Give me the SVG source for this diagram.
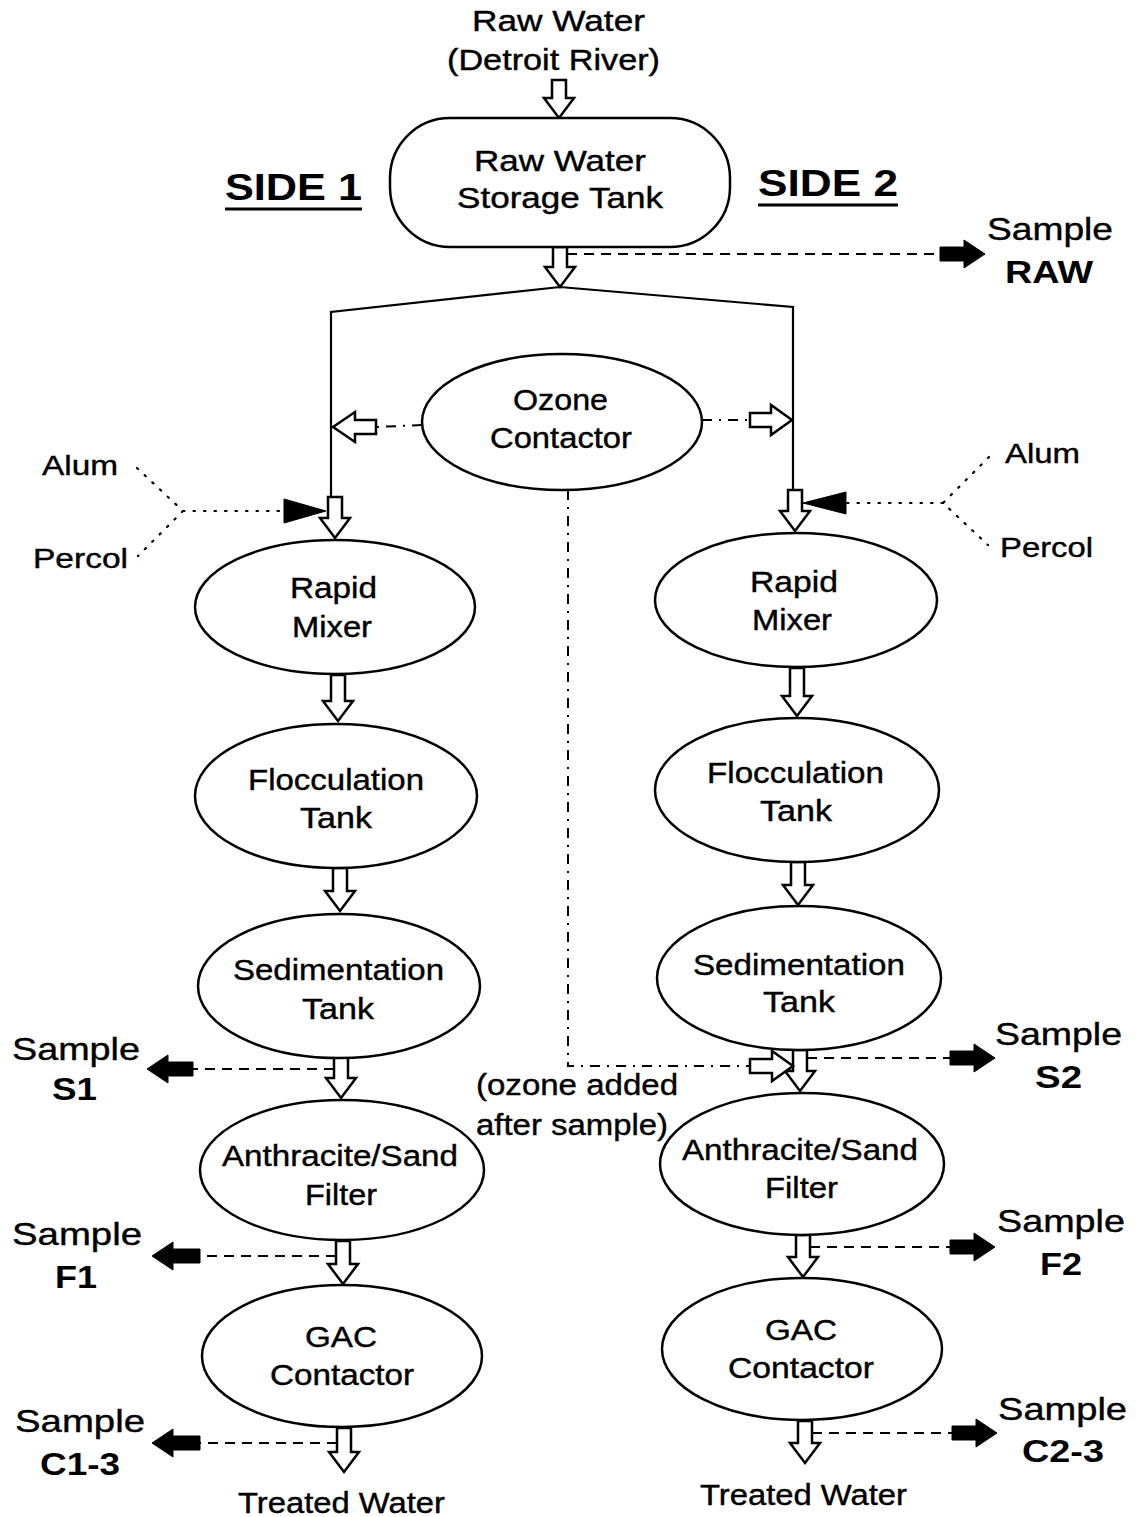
<svg xmlns="http://www.w3.org/2000/svg" width="1137" height="1517" viewBox="0 0 1137 1517">
<style>
text{font-family:"Liberation Sans",Arial,sans-serif;fill:#000}
.t{font-size:29px;stroke:#000;stroke-width:0.4}
.s{font-size:32px;stroke:#000;stroke-width:0.4}
.b{font-size:32px;font-weight:bold}
.side{font-size:36px;font-weight:bold}
.ch{font-size:28px;stroke:#000;stroke-width:0.4}
.node{fill:#fff;stroke:#000;stroke-width:2.5}
.ha{fill:#fff;stroke:#000;stroke-width:2.5;stroke-linejoin:miter}
.ba{fill:#000;stroke:#000;stroke-width:1}
.line{fill:none;stroke:#000;stroke-width:2.2}
.dash{fill:none;stroke:#000;stroke-width:2;stroke-dasharray:10 7}
.dd{fill:none;stroke:#000;stroke-width:2;stroke-dasharray:10 7 2 7}
.dot{fill:none;stroke:#000;stroke-width:2.2;stroke-dasharray:1.5 9;stroke-linecap:round}
</style>
<rect width="1137" height="1517" fill="#fff"/>

<g id="labels">
<text class="t" x="472" y="31" textLength="173" lengthAdjust="spacingAndGlyphs">Raw Water</text>
<text class="t" x="447" y="70" textLength="213" lengthAdjust="spacingAndGlyphs">(Detroit River)</text>
<text class="side" x="225" y="200" textLength="137" lengthAdjust="spacingAndGlyphs">SIDE 1</text>
<line x1="225" y1="209" x2="362" y2="209" stroke="#000" stroke-width="3"/>
<text class="side" x="758" y="196" textLength="140" lengthAdjust="spacingAndGlyphs">SIDE 2</text>
<line x1="758" y1="205" x2="898" y2="205" stroke="#000" stroke-width="3"/>
<text class="ch" x="42" y="475" textLength="76" lengthAdjust="spacingAndGlyphs">Alum</text>
<text class="ch" x="33" y="568" textLength="95" lengthAdjust="spacingAndGlyphs">Percol</text>
<text class="ch" x="1005" y="463" textLength="75" lengthAdjust="spacingAndGlyphs">Alum</text>
<text class="ch" x="1000" y="557" textLength="93" lengthAdjust="spacingAndGlyphs">Percol</text>
<text class="t" x="476" y="1095" textLength="202" lengthAdjust="spacingAndGlyphs">(ozone added</text>
<text class="t" x="476" y="1135" textLength="192" lengthAdjust="spacingAndGlyphs">after sample)</text>
<text class="t" x="238" y="1513" textLength="207" lengthAdjust="spacingAndGlyphs">Treated Water</text>
<text class="t" x="700" y="1505" textLength="207" lengthAdjust="spacingAndGlyphs">Treated Water</text>
</g>

<g id="sample-raw">
<text class="s" x="987" y="240" textLength="126" lengthAdjust="spacingAndGlyphs">Sample</text>
<text class="b" x="1005" y="283" textLength="88" lengthAdjust="spacingAndGlyphs">RAW</text>
</g>
<g id="sample-s1">
<text class="s" x="12" y="1060" textLength="128" lengthAdjust="spacingAndGlyphs">Sample</text>
<text class="b" x="52" y="1100" textLength="45" lengthAdjust="spacingAndGlyphs">S1</text>
</g>
<g id="sample-f1">
<text class="s" x="12" y="1245" textLength="130" lengthAdjust="spacingAndGlyphs">Sample</text>
<text class="b" x="55" y="1288" textLength="42" lengthAdjust="spacingAndGlyphs">F1</text>
</g>
<g id="sample-c1">
<text class="s" x="15" y="1432" textLength="130" lengthAdjust="spacingAndGlyphs">Sample</text>
<text class="b" x="40" y="1475" textLength="80" lengthAdjust="spacingAndGlyphs">C1-3</text>
</g>
<g id="sample-s2">
<text class="s" x="995" y="1045" textLength="127" lengthAdjust="spacingAndGlyphs">Sample</text>
<text class="b" x="1035" y="1088" textLength="47" lengthAdjust="spacingAndGlyphs">S2</text>
</g>
<g id="sample-f2">
<text class="s" x="997" y="1232" textLength="128" lengthAdjust="spacingAndGlyphs">Sample</text>
<text class="b" x="1040" y="1275" textLength="42" lengthAdjust="spacingAndGlyphs">F2</text>
</g>
<g id="sample-c2">
<text class="s" x="998" y="1420" textLength="129" lengthAdjust="spacingAndGlyphs">Sample</text>
<text class="b" x="1022" y="1462" textLength="82" lengthAdjust="spacingAndGlyphs">C2-3</text>
</g>

<g id="connectors">
<polyline class="line" points="331,497 331,312 560,287 793,307 793,490"/>
<line class="dash" x1="567" y1="254" x2="940" y2="254"/>
<line class="dash" x1="334" y1="1069" x2="193" y2="1069"/>
<line class="dash" x1="336" y1="1256" x2="200" y2="1256"/>
<line class="dash" x1="337" y1="1443" x2="200" y2="1443"/>
<line class="dash" x1="807" y1="1058" x2="950" y2="1058"/>
<line class="dash" x1="810" y1="1247" x2="950" y2="1247"/>
<line class="dash" x1="812" y1="1433" x2="952" y2="1433"/>
<line class="dd" x1="422" y1="425" x2="376" y2="427"/>
<line class="dd" x1="702" y1="420" x2="750" y2="420"/>
<polyline class="dd" points="568,490 568,1066 750,1066"/>
<polyline class="dot" points="137,468 183,511 138,556"/>
<line class="dot" x1="183" y1="511" x2="284" y2="511"/>
<polyline class="dot" points="989,457 943,503 988,545"/>
<line class="dot" x1="943" y1="503" x2="846" y2="503"/>
<path class="ba" d="M326,511 L284,499 L284,523 Z"/>
<path class="ba" d="M803,503 L846,492 L846,514 Z"/>
<path class="ha" d="M552,80 H566 V98 H574 L559,118 L544,98 H552 Z"/>
<path class="ha" d="M553,247 H567 V267 H575 L560,287 L545,267 H553 Z"/>
<path class="ha" d="M328,497 H342 V518 H350 L335,538 L320,518 H328 Z"/>
<path class="ha" d="M788,490 H802 V511 H810 L795,531 L780,511 H788 Z"/>
<path class="ha" d="M331,675 H345 V701 H353 L338,721 L323,701 H331 Z"/>
<path class="ha" d="M790,668 H804 V696 H812 L797,716 L782,696 H790 Z"/>
<path class="ha" d="M333,868 H347 V891 H355 L340,911 L325,891 H333 Z"/>
<path class="ha" d="M791,862 H805 V885 H813 L798,905 L783,885 H791 Z"/>
<path class="ha" d="M334,1057 H348 V1078 H356 L341,1098 L326,1078 H334 Z"/>
<path class="ha" d="M793,1050 H807 V1071 H815 L800,1091 L785,1071 H793 Z"/>
<path class="ha" d="M336,1241 H350 V1264 H358 L343,1284 L328,1264 H336 Z"/>
<path class="ha" d="M796,1235 H810 V1257 H818 L803,1277 L788,1257 H796 Z"/>
<path class="ha" d="M337,1428 H351 V1452 H359 L344,1472 L329,1452 H337 Z"/>
<path class="ha" d="M798,1421 H812 V1443 H820 L805,1463 L790,1443 H798 Z"/>
<path class="ha" d="M376,420 H355 V412 L333,427 L355,442 V434 H376 Z"/>
<path class="ha" d="M750,413 H771 V405 L792,420 L771,435 V427 H750 Z"/>
<path class="ha" d="M750,1059 H772 V1051 L793,1066 L772,1081 V1073 H750 Z"/>
<path class="ba" d="M985,254 L964,240 V247 H940 V261 H964 V268 Z"/>
<path class="ba" d="M147,1069 L168,1055 V1062 H193 V1076 H168 V1083 Z"/>
<path class="ba" d="M152,1256 L173,1242 V1249 H200 V1263 H173 V1270 Z"/>
<path class="ba" d="M152,1443 L173,1429 V1436 H200 V1450 H173 V1457 Z"/>
<path class="ba" d="M995,1058 L974,1044 V1051 H950 V1065 H974 V1072 Z"/>
<path class="ba" d="M995,1247 L974,1233 V1240 H950 V1254 H974 V1261 Z"/>
<path class="ba" d="M997,1433 L976,1419 V1426 H952 V1440 H976 V1447 Z"/>
</g>

<g id="storage-tank">
<rect class="node" x="390" y="118" width="340" height="129" rx="60" ry="60"/>
<text class="t" x="474" y="171" textLength="172" lengthAdjust="spacingAndGlyphs">Raw Water</text>
<text class="t" x="457" y="208" textLength="206" lengthAdjust="spacingAndGlyphs">Storage Tank</text>
</g>
<g id="ozone">
<ellipse class="node" cx="562" cy="422" rx="140" ry="68"/>
<text class="t" x="513" y="410" textLength="95" lengthAdjust="spacingAndGlyphs">Ozone</text>
<text class="t" x="490" y="448" textLength="142" lengthAdjust="spacingAndGlyphs">Contactor</text>
</g>
<g id="mixer1">
<ellipse class="node" cx="335" cy="607" rx="140" ry="67"/>
<text class="t" x="290" y="598" textLength="87" lengthAdjust="spacingAndGlyphs">Rapid</text>
<text class="t" x="292" y="637" textLength="80" lengthAdjust="spacingAndGlyphs">Mixer</text>
</g>
<g id="mixer2">
<ellipse class="node" cx="796" cy="600" rx="141" ry="67"/>
<text class="t" x="750" y="592" textLength="88" lengthAdjust="spacingAndGlyphs">Rapid</text>
<text class="t" x="752" y="630" textLength="80" lengthAdjust="spacingAndGlyphs">Mixer</text>
</g>
<g id="floc1">
<ellipse class="node" cx="336" cy="796" rx="141" ry="72"/>
<text class="t" x="248" y="790" textLength="176" lengthAdjust="spacingAndGlyphs">Flocculation</text>
<text class="t" x="300" y="828" textLength="72" lengthAdjust="spacingAndGlyphs">Tank</text>
</g>
<g id="floc2">
<ellipse class="node" cx="797" cy="790" rx="142" ry="72"/>
<text class="t" x="707" y="783" textLength="177" lengthAdjust="spacingAndGlyphs">Flocculation</text>
<text class="t" x="760" y="821" textLength="72" lengthAdjust="spacingAndGlyphs">Tank</text>
</g>
<g id="sed1">
<ellipse class="node" cx="339" cy="986" rx="141" ry="72"/>
<text class="t" x="233" y="980" textLength="211" lengthAdjust="spacingAndGlyphs">Sedimentation</text>
<text class="t" x="302" y="1019" textLength="72" lengthAdjust="spacingAndGlyphs">Tank</text>
</g>
<g id="sed2">
<ellipse class="node" cx="799" cy="978" rx="142" ry="72"/>
<text class="t" x="693" y="975" textLength="212" lengthAdjust="spacingAndGlyphs">Sedimentation</text>
<text class="t" x="763" y="1012" textLength="72" lengthAdjust="spacingAndGlyphs">Tank</text>
</g>
<g id="filter1">
<ellipse class="node" cx="342" cy="1170" rx="142" ry="70"/>
<text class="t" x="222" y="1166" textLength="236" lengthAdjust="spacingAndGlyphs">Anthracite/Sand</text>
<text class="t" x="305" y="1205" textLength="72" lengthAdjust="spacingAndGlyphs">Filter</text>
</g>
<g id="filter2">
<ellipse class="node" cx="802" cy="1164" rx="142" ry="71"/>
<text class="t" x="682" y="1160" textLength="236" lengthAdjust="spacingAndGlyphs">Anthracite/Sand</text>
<text class="t" x="765" y="1198" textLength="73" lengthAdjust="spacingAndGlyphs">Filter</text>
</g>
<g id="gac1">
<ellipse class="node" cx="342" cy="1356" rx="140" ry="71"/>
<text class="t" x="305" y="1347" textLength="72" lengthAdjust="spacingAndGlyphs">GAC</text>
<text class="t" x="270" y="1385" textLength="144" lengthAdjust="spacingAndGlyphs">Contactor</text>
</g>
<g id="gac2">
<ellipse class="node" cx="802" cy="1349" rx="140" ry="71"/>
<text class="t" x="765" y="1340" textLength="72" lengthAdjust="spacingAndGlyphs">GAC</text>
<text class="t" x="728" y="1378" textLength="146" lengthAdjust="spacingAndGlyphs">Contactor</text>
</g>
</svg>
